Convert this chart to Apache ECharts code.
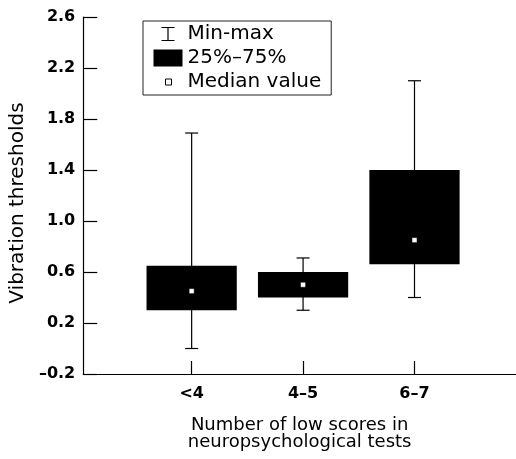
<!DOCTYPE html>
<html>
<head>
<meta charset="utf-8">
<script src="https://cdn.jsdelivr.net/npm/echarts@6/dist/echarts.min.js"></script>
<style>
  html, body { margin: 0; padding: 0; background: #fff; }
  #main { width: 516px; height: 459px; }
</style>
</head>
<body>
<div id="main"></div>
<script>
// groups on the x axis
const categories = ['<4', '4–5', '6–7'];
// vibration thresholds per group
const minVals = [0.0, 0.3, 0.4];
const q1Vals = [0.3, 0.4, 0.66];
const medianVals = [0.45, 0.5, 0.85];
const q3Vals = [0.65, 0.6, 1.4];
const maxVals = [1.69, 0.71, 2.1];

const FONT = 'DejaVu Sans';
const BOX_HALF = 0.405; // half box width in x units
const CAP = 6.5;        // half cap width in px

const chart = echarts.init(document.getElementById('main'), null, { renderer: 'canvas' });

const xPos = categories.map((c, i) => i + 1);

// whiskers (min-max) with caps
function renderWhisker(params, api) {
  const x = api.value(0);
  const lo = api.coord([x, api.value(1)]);
  const hi = api.coord([x, api.value(2)]);
  const st = { stroke: '#000', lineWidth: 1.2 };
  return {
    type: 'group',
    children: [
      { type: 'line', shape: { x1: lo[0], y1: lo[1], x2: hi[0], y2: hi[1] }, style: st },
      { type: 'line', shape: { x1: lo[0] - CAP, y1: lo[1], x2: lo[0] + CAP, y2: lo[1] }, style: st },
      { type: 'line', shape: { x1: hi[0] - CAP, y1: hi[1], x2: hi[0] + CAP, y2: hi[1] }, style: st }
    ]
  };
}

// interquartile box
function renderBox(params, api) {
  const x = api.value(0);
  const p1 = api.coord([x - BOX_HALF, api.value(2)]);
  const p2 = api.coord([x + BOX_HALF, api.value(1)]);
  return {
    type: 'rect',
    shape: { x: p1[0], y: p1[1], width: p2[0] - p1[0], height: p2[1] - p1[1] },
    style: { fill: '#000' }
  };
}

const option = {
  animation: false,
  backgroundColor: '#fff',
  grid: { left: 81, top: 17, right: 0, bottom: 85, containLabel: false },
  legend: {
    orient: 'vertical',
    left: 143,
    top: 21,
    padding: [1, 10, 1, 8],
    itemGap: 0,
    itemWidth: 29,
    itemHeight: 17,
    borderColor: '#222',
    borderWidth: 1,
    textStyle: { fontFamily: FONT, fontSize: 20, color: '#000', lineHeight: 24 },
    data: [
      {
        name: 'Min-max',
        icon: 'path://M0,0M29,17M8,2h13M14.5,2v13M8,15h13',
        itemStyle: { color: 'none', borderColor: '#000', borderWidth: 1.2 }
      },
      {
        name: '25%–75%',
        icon: 'rect',
        itemStyle: { color: '#000', borderWidth: 0 }
      },
      {
        name: 'Median value',
        icon: 'path://M0,0M29,17M12,5.5h6v6h-6z',
        itemStyle: { color: '#fff', borderColor: '#000', borderWidth: 1 }
      }
    ]
  },
  xAxis: {
    type: 'value',
    min: 0.027,
    max: 3.911,
    name: 'Number of low scores in\nneuropsychological tests',
    nameLocation: 'middle',
    nameGap: 43,
    nameTextStyle: { fontFamily: FONT, fontSize: 18, color: '#000', lineHeight: 17 },
    axisLine: { show: true, onZero: false, lineStyle: { color: '#000', width: 1.2 } },
    axisTick: { show: true, inside: true, length: 13, customValues: xPos, lineStyle: { color: '#000', width: 1.2 } },
    axisLabel: {
      customValues: xPos,
      margin: 12,
      fontFamily: FONT,
      fontSize: 16,
      fontWeight: 'bold',
      color: '#000',
      formatter: v => categories[Math.round(v) - 1] || ''
    },
    splitLine: { show: false }
  },
  yAxis: {
    type: 'value',
    min: -0.2,
    max: 2.6,
    interval: 0.4,
    name: 'Vibration thresholds',
    nameLocation: 'middle',
    nameGap: 48,
    nameTextStyle: { fontFamily: FONT, fontSize: 20, color: '#000', padding: [0, 15, 0, 0] },
    axisLine: { show: true, onZero: false, lineStyle: { color: '#000', width: 1.2 } },
    axisTick: { show: true, inside: true, length: 14, lineStyle: { color: '#000', width: 1.2 } },
    axisLabel: {
      margin: 8,
      fontFamily: FONT,
      fontSize: 16,
      fontWeight: 'bold',
      color: '#000',
      formatter: v => (v < -1e-9 ? '–' : '') + Math.abs(v).toFixed(1)
    },
    splitLine: { show: false }
  },
  series: [
    {
      name: 'Min-max',
      type: 'custom',
      renderItem: renderWhisker,
      encode: { x: 0, y: [1, 2] },
      data: xPos.map((x, i) => [x, minVals[i], maxVals[i]]),
      z: 1
    },
    {
      name: '25%–75%',
      type: 'custom',
      renderItem: renderBox,
      encode: { x: 0, y: [1, 2] },
      data: xPos.map((x, i) => [x, q1Vals[i], q3Vals[i]]),
      z: 2
    },
    {
      name: 'Median value',
      type: 'scatter',
      symbol: 'rect',
      symbolSize: 5,
      itemStyle: { color: '#fff', borderColor: '#000', borderWidth: 0.5, opacity: 1 },
      data: xPos.map((x, i) => [x, medianVals[i]]),
      z: 3
    }
  ]
};

chart.setOption(option);
</script>
</body>
</html>
